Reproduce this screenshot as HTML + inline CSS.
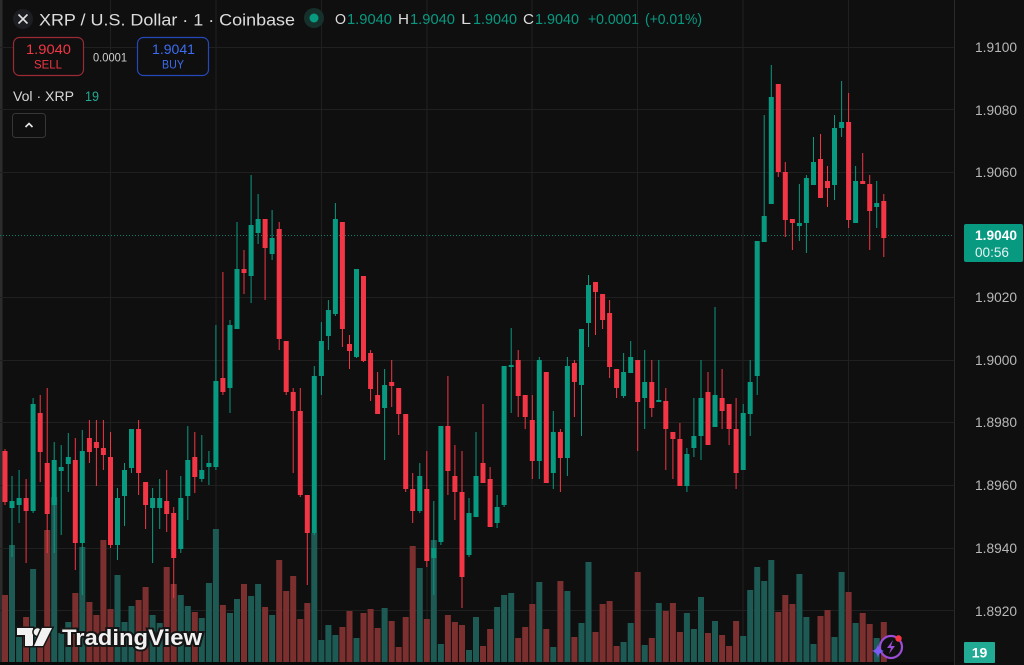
<!DOCTYPE html>
<html><head><meta charset="utf-8"><style>
html,body{margin:0;padding:0;background:#0f0f0f;width:1024px;height:665px;overflow:hidden}
svg{display:block}
text{font-family:"Liberation Sans",sans-serif}
</style></head><body>
<svg width="1024" height="665" viewBox="0 0 1024 665" xmlns="http://www.w3.org/2000/svg">
<rect width="1024" height="665" fill="#0f0f0f"/>
<rect x="0" y="0" width="2.5" height="665" fill="#2c2c2c"/>
<g stroke="#202020" stroke-width="1">
<line x1="0" y1="47.5" x2="954" y2="47.5"/><line x1="0" y1="109.5" x2="954" y2="109.5"/><line x1="0" y1="172.5" x2="954" y2="172.5"/><line x1="0" y1="297.5" x2="954" y2="297.5"/><line x1="0" y1="360.5" x2="954" y2="360.5"/><line x1="0" y1="422.5" x2="954" y2="422.5"/><line x1="0" y1="485.5" x2="954" y2="485.5"/><line x1="0" y1="548.5" x2="954" y2="548.5"/><line x1="0" y1="610.5" x2="954" y2="610.5"/>
<line x1="110.5" y1="0" x2="110.5" y2="662"/><line x1="216" y1="0" x2="216" y2="662"/><line x1="321.5" y1="0" x2="321.5" y2="662"/><line x1="427" y1="0" x2="427" y2="662"/><line x1="532" y1="0" x2="532" y2="662"/><line x1="637.5" y1="0" x2="637.5" y2="662"/><line x1="743" y1="0" x2="743" y2="662"/><line x1="848.5" y1="0" x2="848.5" y2="662"/>
</g>
<line x1="954.5" y1="0" x2="954.5" y2="665" stroke="#2a2a2a"/>
<g fill="#1e5a54">
<rect x="9" y="545" width="6" height="117"/><rect x="16.1" y="637" width="6" height="25"/><rect x="30.1" y="569" width="6" height="93"/><rect x="51.2" y="497" width="6" height="165"/><rect x="58.2" y="633" width="6" height="29"/><rect x="65.3" y="622" width="6" height="40"/><rect x="79.3" y="547" width="6" height="115"/><rect x="114.5" y="575" width="6" height="87"/><rect x="121.5" y="622" width="6" height="40"/><rect x="128.5" y="606" width="6" height="56"/><rect x="149.6" y="615" width="6" height="47"/><rect x="156.7" y="623" width="6" height="39"/><rect x="177.8" y="595" width="6" height="67"/><rect x="184.8" y="606" width="6" height="56"/><rect x="198.8" y="618" width="6" height="44"/><rect x="205.9" y="583" width="6" height="79"/><rect x="212.9" y="529" width="6" height="133"/><rect x="227" y="613" width="6" height="49"/><rect x="234" y="599" width="6" height="63"/><rect x="248.1" y="596" width="6" height="66"/><rect x="255.1" y="584" width="6" height="78"/><rect x="269.1" y="615" width="6" height="47"/><rect x="311.3" y="533" width="6" height="129"/><rect x="318.4" y="640" width="6" height="22"/><rect x="325.4" y="625" width="6" height="37"/><rect x="332.4" y="635" width="6" height="27"/><rect x="353.5" y="638" width="6" height="24"/><rect x="381.6" y="608" width="6" height="54"/><rect x="416.8" y="568" width="6" height="94"/><rect x="430.8" y="540" width="6" height="122"/><rect x="437.9" y="644" width="6" height="18"/><rect x="466" y="650" width="6" height="12"/><rect x="473" y="617" width="6" height="45"/><rect x="494.1" y="607" width="6" height="55"/><rect x="501.1" y="595" width="6" height="67"/><rect x="508.2" y="593" width="6" height="69"/><rect x="536.3" y="582" width="6" height="80"/><rect x="550.3" y="647" width="6" height="15"/><rect x="564.4" y="591" width="6" height="71"/><rect x="578.5" y="623" width="6" height="39"/><rect x="585.5" y="562" width="6" height="100"/><rect x="620.6" y="642" width="6" height="20"/><rect x="627.7" y="623" width="6" height="39"/><rect x="641.7" y="645" width="6" height="17"/><rect x="655.8" y="603" width="6" height="59"/><rect x="683.9" y="613" width="6" height="49"/><rect x="690.9" y="629" width="6" height="33"/><rect x="698" y="597" width="6" height="65"/><rect x="712" y="621" width="6" height="41"/><rect x="740.2" y="636" width="6" height="26"/><rect x="747.2" y="590" width="6" height="72"/><rect x="754.2" y="567" width="6" height="95"/><rect x="761.2" y="581" width="6" height="81"/><rect x="768.3" y="560" width="6" height="102"/><rect x="796.4" y="574" width="6" height="88"/><rect x="803.4" y="617" width="6" height="45"/><rect x="810.5" y="644" width="6" height="18"/><rect x="831.5" y="637" width="6" height="25"/><rect x="838.6" y="572" width="6" height="90"/><rect x="852.6" y="623" width="6" height="39"/><rect x="873.7" y="638" width="6" height="24"/>
</g>
<g fill="#7b302f">
<rect x="2" y="595" width="6" height="67"/><rect x="23.1" y="617" width="6" height="45"/><rect x="37.2" y="647" width="6" height="15"/><rect x="44.2" y="530" width="6" height="132"/><rect x="72.3" y="593" width="6" height="69"/><rect x="86.4" y="602" width="6" height="60"/><rect x="93.4" y="615" width="6" height="47"/><rect x="100.4" y="540" width="6" height="122"/><rect x="107.5" y="609" width="6" height="53"/><rect x="135.6" y="600" width="6" height="62"/><rect x="142.6" y="587" width="6" height="75"/><rect x="163.7" y="567" width="6" height="95"/><rect x="170.7" y="584" width="6" height="78"/><rect x="191.8" y="612" width="6" height="50"/><rect x="219.9" y="605" width="6" height="57"/><rect x="241" y="584" width="6" height="78"/><rect x="262.1" y="607" width="6" height="55"/><rect x="276.2" y="560" width="6" height="102"/><rect x="283.2" y="591" width="6" height="71"/><rect x="290.2" y="576" width="6" height="86"/><rect x="297.3" y="619" width="6" height="43"/><rect x="304.3" y="603" width="6" height="59"/><rect x="339.4" y="627" width="6" height="35"/><rect x="346.5" y="611" width="6" height="51"/><rect x="360.5" y="613" width="6" height="49"/><rect x="367.6" y="609" width="6" height="53"/><rect x="374.6" y="628" width="6" height="34"/><rect x="388.7" y="621" width="6" height="41"/><rect x="395.7" y="647" width="6" height="15"/><rect x="402.7" y="617" width="6" height="45"/><rect x="409.7" y="546" width="6" height="116"/><rect x="423.8" y="619" width="6" height="43"/><rect x="444.9" y="615" width="6" height="47"/><rect x="451.9" y="622" width="6" height="40"/><rect x="459" y="625" width="6" height="37"/><rect x="480" y="646" width="6" height="16"/><rect x="487.1" y="629" width="6" height="33"/><rect x="515.2" y="638" width="6" height="24"/><rect x="522.2" y="627" width="6" height="35"/><rect x="529.3" y="604" width="6" height="58"/><rect x="543.3" y="629" width="6" height="33"/><rect x="557.4" y="581" width="6" height="81"/><rect x="571.4" y="637" width="6" height="25"/><rect x="592.5" y="632" width="6" height="30"/><rect x="599.6" y="604" width="6" height="58"/><rect x="606.6" y="601" width="6" height="61"/><rect x="613.6" y="646" width="6" height="16"/><rect x="634.7" y="572" width="6" height="90"/><rect x="648.8" y="638" width="6" height="24"/><rect x="662.8" y="611" width="6" height="51"/><rect x="669.9" y="603" width="6" height="59"/><rect x="676.9" y="632" width="6" height="30"/><rect x="705" y="633" width="6" height="29"/><rect x="719.1" y="635" width="6" height="27"/><rect x="726.1" y="646" width="6" height="16"/><rect x="733.1" y="621" width="6" height="41"/><rect x="775.3" y="612" width="6" height="50"/><rect x="782.3" y="595" width="6" height="67"/><rect x="789.4" y="604" width="6" height="58"/><rect x="817.5" y="616" width="6" height="46"/><rect x="824.5" y="610" width="6" height="52"/><rect x="845.6" y="592" width="6" height="70"/><rect x="859.7" y="613" width="6" height="49"/><rect x="866.7" y="624" width="6" height="38"/><rect x="880.8" y="622" width="6" height="40"/>
</g>
<rect x="0" y="662" width="954" height="3" fill="#090909"/>
<line x1="0" y1="235.5" x2="954" y2="235.5" stroke="#0a7d6b" stroke-width="1" stroke-dasharray="1 2"/>
<g fill="#089981">
<rect x="11.5" y="476" width="1" height="81"/><rect x="9.5" y="501" width="5" height="7"/>
<rect x="18.6" y="470" width="1" height="53"/><rect x="16.6" y="498" width="5" height="7"/>
<rect x="32.6" y="398" width="1" height="115"/><rect x="30.6" y="404" width="5" height="107"/>
<rect x="53.7" y="442" width="1" height="111"/><rect x="51.7" y="460" width="5" height="45"/>
<rect x="60.7" y="445" width="1" height="90"/><rect x="58.7" y="467" width="5" height="4"/>
<rect x="67.8" y="433" width="1" height="59"/><rect x="65.8" y="457" width="5" height="7"/>
<rect x="81.8" y="430" width="1" height="165"/><rect x="79.8" y="451" width="5" height="92"/>
<rect x="117" y="488" width="1" height="72"/><rect x="115" y="498" width="5" height="47"/>
<rect x="124" y="463" width="1" height="63"/><rect x="122" y="470" width="5" height="26"/>
<rect x="131" y="429" width="1" height="44"/><rect x="129" y="429" width="5" height="39"/>
<rect x="152.1" y="488" width="1" height="75"/><rect x="150.1" y="498" width="5" height="10"/>
<rect x="159.2" y="479" width="1" height="50"/><rect x="157.2" y="498" width="5" height="10"/>
<rect x="180.3" y="476" width="1" height="77"/><rect x="178.3" y="498" width="5" height="51"/>
<rect x="187.3" y="426" width="1" height="94"/><rect x="185.3" y="460" width="5" height="36"/>
<rect x="201.3" y="435" width="1" height="47"/><rect x="199.3" y="470" width="5" height="9"/>
<rect x="208.4" y="451" width="1" height="34"/><rect x="206.4" y="463" width="5" height="4"/>
<rect x="215.4" y="325" width="1" height="145"/><rect x="213.4" y="381" width="5" height="86"/>
<rect x="229.5" y="320" width="1" height="93"/><rect x="227.5" y="325" width="5" height="63"/>
<rect x="236.5" y="222" width="1" height="107"/><rect x="234.5" y="269" width="5" height="60"/>
<rect x="250.6" y="175" width="1" height="128"/><rect x="248.6" y="225" width="5" height="51"/>
<rect x="257.6" y="194" width="1" height="50"/><rect x="255.6" y="219" width="5" height="14"/>
<rect x="271.6" y="210" width="1" height="50"/><rect x="269.6" y="238" width="5" height="16"/>
<rect x="313.8" y="366" width="1" height="169"/><rect x="311.8" y="376" width="5" height="157"/>
<rect x="320.9" y="322" width="1" height="73"/><rect x="318.9" y="341" width="5" height="35"/>
<rect x="327.9" y="300" width="1" height="50"/><rect x="325.9" y="310" width="5" height="26"/>
<rect x="334.9" y="203" width="1" height="113"/><rect x="332.9" y="219" width="5" height="95"/>
<rect x="356" y="269" width="1" height="89"/><rect x="354" y="269" width="5" height="88"/>
<rect x="384.1" y="369" width="1" height="91"/><rect x="382.1" y="385" width="5" height="23"/>
<rect x="419.3" y="463" width="1" height="50"/><rect x="417.3" y="476" width="5" height="35"/>
<rect x="433.3" y="501" width="1" height="94"/><rect x="431.3" y="548" width="5" height="10"/>
<rect x="440.4" y="426" width="1" height="119"/><rect x="438.4" y="426" width="5" height="116"/>
<rect x="468.5" y="498" width="1" height="59"/><rect x="466.5" y="513" width="5" height="42"/>
<rect x="475.5" y="432" width="1" height="85"/><rect x="473.5" y="476" width="5" height="41"/>
<rect x="496.6" y="495" width="1" height="33"/><rect x="494.6" y="507" width="5" height="16"/>
<rect x="503.6" y="366" width="1" height="141"/><rect x="501.6" y="366" width="5" height="139"/>
<rect x="510.7" y="328" width="1" height="85"/><rect x="508.7" y="365" width="5" height="2"/>
<rect x="538.8" y="357" width="1" height="122"/><rect x="536.8" y="360" width="5" height="101"/>
<rect x="552.8" y="411" width="1" height="78"/><rect x="550.8" y="432" width="5" height="41"/>
<rect x="566.9" y="357" width="1" height="119"/><rect x="564.9" y="366" width="5" height="92"/>
<rect x="581" y="329" width="1" height="107"/><rect x="579" y="329" width="5" height="56"/>
<rect x="588" y="275" width="1" height="72"/><rect x="586" y="285" width="5" height="38"/>
<rect x="623.1" y="353" width="1" height="45"/><rect x="621.1" y="372" width="5" height="24"/>
<rect x="630.2" y="341" width="1" height="32"/><rect x="628.2" y="357" width="5" height="16"/>
<rect x="644.2" y="350" width="1" height="79"/><rect x="642.2" y="382" width="5" height="16"/>
<rect x="658.3" y="360" width="1" height="42"/><rect x="656.3" y="400" width="5" height="2"/>
<rect x="686.4" y="448" width="1" height="44"/><rect x="684.4" y="454" width="5" height="32"/>
<rect x="693.4" y="398" width="1" height="59"/><rect x="691.4" y="436" width="5" height="12"/>
<rect x="700.5" y="360" width="1" height="100"/><rect x="698.5" y="398" width="5" height="38"/>
<rect x="714.5" y="307" width="1" height="120"/><rect x="712.5" y="395" width="5" height="32"/>
<rect x="742.7" y="404" width="1" height="66"/><rect x="740.7" y="413" width="5" height="57"/>
<rect x="749.7" y="360" width="1" height="76"/><rect x="747.7" y="382" width="5" height="32"/>
<rect x="756.7" y="241" width="1" height="154"/><rect x="754.7" y="241" width="5" height="135"/>
<rect x="763.7" y="115" width="1" height="127"/><rect x="761.7" y="216" width="5" height="26"/>
<rect x="770.8" y="65" width="1" height="139"/><rect x="768.8" y="97" width="5" height="107"/>
<rect x="798.9" y="184" width="1" height="57"/><rect x="796.9" y="223" width="5" height="3"/>
<rect x="805.9" y="175" width="1" height="78"/><rect x="803.9" y="178" width="5" height="45"/>
<rect x="813" y="137" width="1" height="48"/><rect x="811" y="162" width="5" height="23"/>
<rect x="834" y="115" width="1" height="85"/><rect x="832" y="128" width="5" height="57"/>
<rect x="841.1" y="81" width="1" height="56"/><rect x="839.1" y="122" width="5" height="6"/>
<rect x="855.1" y="166" width="1" height="57"/><rect x="853.1" y="181" width="5" height="42"/>
<rect x="876.2" y="181" width="1" height="47"/><rect x="874.2" y="203" width="5" height="4"/>
</g>
<g fill="#f23645">
<rect x="4.5" y="449" width="1" height="56"/><rect x="2.5" y="451" width="5" height="51"/>
<rect x="25.6" y="479" width="1" height="84"/><rect x="23.6" y="498" width="5" height="13"/>
<rect x="39.7" y="395" width="1" height="87"/><rect x="37.7" y="413" width="5" height="39"/>
<rect x="46.7" y="388" width="1" height="165"/><rect x="44.7" y="463" width="5" height="51"/>
<rect x="74.8" y="438" width="1" height="132"/><rect x="72.8" y="460" width="5" height="83"/>
<rect x="88.9" y="420" width="1" height="43"/><rect x="86.9" y="438" width="5" height="14"/>
<rect x="95.9" y="420" width="1" height="66"/><rect x="93.9" y="442" width="5" height="6"/>
<rect x="102.9" y="420" width="1" height="50"/><rect x="100.9" y="448" width="5" height="7"/>
<rect x="110" y="432" width="1" height="116"/><rect x="108" y="457" width="5" height="88"/>
<rect x="138.1" y="420" width="1" height="75"/><rect x="136.1" y="429" width="5" height="44"/>
<rect x="145.1" y="482" width="1" height="47"/><rect x="143.1" y="482" width="5" height="23"/>
<rect x="166.2" y="470" width="1" height="62"/><rect x="164.2" y="501" width="5" height="13"/>
<rect x="173.2" y="507" width="1" height="91"/><rect x="171.2" y="513" width="5" height="45"/>
<rect x="194.3" y="432" width="1" height="61"/><rect x="192.3" y="457" width="5" height="20"/>
<rect x="222.4" y="272" width="1" height="123"/><rect x="220.4" y="378" width="5" height="14"/>
<rect x="243.5" y="250" width="1" height="44"/><rect x="241.5" y="269" width="5" height="4"/>
<rect x="264.6" y="219" width="1" height="81"/><rect x="262.6" y="219" width="5" height="29"/>
<rect x="278.7" y="222" width="1" height="128"/><rect x="276.7" y="229" width="5" height="110"/>
<rect x="285.7" y="341" width="1" height="54"/><rect x="283.7" y="341" width="5" height="51"/>
<rect x="292.7" y="388" width="1" height="85"/><rect x="290.7" y="392" width="5" height="19"/>
<rect x="299.8" y="388" width="1" height="109"/><rect x="297.8" y="411" width="5" height="84"/>
<rect x="306.8" y="495" width="1" height="90"/><rect x="304.8" y="495" width="5" height="38"/>
<rect x="341.9" y="222" width="1" height="125"/><rect x="339.9" y="222" width="5" height="107"/>
<rect x="349" y="335" width="1" height="34"/><rect x="347" y="344" width="5" height="7"/>
<rect x="363" y="276" width="1" height="86"/><rect x="361" y="276" width="5" height="85"/>
<rect x="370.1" y="350" width="1" height="51"/><rect x="368.1" y="353" width="5" height="36"/>
<rect x="377.1" y="372" width="1" height="42"/><rect x="375.1" y="395" width="5" height="19"/>
<rect x="391.2" y="360" width="1" height="47"/><rect x="389.2" y="382" width="5" height="4"/>
<rect x="398.2" y="388" width="1" height="47"/><rect x="396.2" y="388" width="5" height="26"/>
<rect x="405.2" y="414" width="1" height="78"/><rect x="403.2" y="414" width="5" height="75"/>
<rect x="412.2" y="473" width="1" height="50"/><rect x="410.2" y="489" width="5" height="22"/>
<rect x="426.3" y="451" width="1" height="116"/><rect x="424.3" y="489" width="5" height="72"/>
<rect x="447.4" y="376" width="1" height="119"/><rect x="445.4" y="426" width="5" height="45"/>
<rect x="454.4" y="445" width="1" height="75"/><rect x="452.4" y="476" width="5" height="16"/>
<rect x="461.5" y="451" width="1" height="157"/><rect x="459.5" y="492" width="5" height="85"/>
<rect x="482.5" y="404" width="1" height="79"/><rect x="480.5" y="463" width="5" height="20"/>
<rect x="489.6" y="467" width="1" height="60"/><rect x="487.6" y="479" width="5" height="48"/>
<rect x="517.7" y="350" width="1" height="67"/><rect x="515.7" y="360" width="5" height="36"/>
<rect x="524.7" y="395" width="1" height="34"/><rect x="522.7" y="395" width="5" height="22"/>
<rect x="531.8" y="395" width="1" height="84"/><rect x="529.8" y="420" width="5" height="41"/>
<rect x="545.8" y="372" width="1" height="111"/><rect x="543.8" y="372" width="5" height="111"/>
<rect x="559.9" y="429" width="1" height="63"/><rect x="557.9" y="432" width="5" height="26"/>
<rect x="573.9" y="360" width="1" height="57"/><rect x="571.9" y="363" width="5" height="19"/>
<rect x="595" y="282" width="1" height="53"/><rect x="593" y="282" width="5" height="10"/>
<rect x="602.1" y="294" width="1" height="35"/><rect x="600.1" y="294" width="5" height="26"/>
<rect x="609.1" y="300" width="1" height="78"/><rect x="607.1" y="313" width="5" height="54"/>
<rect x="616.1" y="369" width="1" height="29"/><rect x="614.1" y="369" width="5" height="19"/>
<rect x="637.2" y="360" width="1" height="91"/><rect x="635.2" y="360" width="5" height="42"/>
<rect x="651.3" y="360" width="1" height="57"/><rect x="649.3" y="382" width="5" height="26"/>
<rect x="665.3" y="388" width="1" height="82"/><rect x="663.3" y="401" width="5" height="28"/>
<rect x="672.4" y="432" width="1" height="47"/><rect x="670.4" y="432" width="5" height="7"/>
<rect x="679.4" y="423" width="1" height="63"/><rect x="677.4" y="439" width="5" height="47"/>
<rect x="707.5" y="372" width="1" height="73"/><rect x="705.5" y="392" width="5" height="53"/>
<rect x="721.6" y="369" width="1" height="60"/><rect x="719.6" y="398" width="5" height="13"/>
<rect x="728.6" y="404" width="1" height="41"/><rect x="726.6" y="404" width="5" height="25"/>
<rect x="735.6" y="398" width="1" height="91"/><rect x="733.6" y="429" width="5" height="44"/>
<rect x="777.8" y="84" width="1" height="93"/><rect x="775.8" y="84" width="5" height="88"/>
<rect x="784.8" y="162" width="1" height="75"/><rect x="782.8" y="172" width="5" height="48"/>
<rect x="791.9" y="219" width="1" height="31"/><rect x="789.9" y="219" width="5" height="4"/>
<rect x="820" y="134" width="1" height="64"/><rect x="818" y="159" width="5" height="39"/>
<rect x="827" y="166" width="1" height="41"/><rect x="825" y="181" width="5" height="7"/>
<rect x="848.1" y="93" width="1" height="135"/><rect x="846.1" y="122" width="5" height="98"/>
<rect x="862.2" y="153" width="1" height="31"/><rect x="860.2" y="181" width="5" height="3"/>
<rect x="869.2" y="175" width="1" height="75"/><rect x="867.2" y="184" width="5" height="27"/>
<rect x="883.3" y="194" width="1" height="63"/><rect x="881.3" y="201" width="5" height="37"/>
</g>
<g fill="#b8b8b8" font-size="14">
<text x="975" y="52" textLength="42" lengthAdjust="spacingAndGlyphs">1.9100</text>
<text x="975" y="115" textLength="42" lengthAdjust="spacingAndGlyphs">1.9080</text>
<text x="975" y="177" textLength="42" lengthAdjust="spacingAndGlyphs">1.9060</text>
<text x="975" y="302" textLength="42" lengthAdjust="spacingAndGlyphs">1.9020</text>
<text x="975" y="365" textLength="42" lengthAdjust="spacingAndGlyphs">1.9000</text>
<text x="975" y="427" textLength="42" lengthAdjust="spacingAndGlyphs">1.8980</text>
<text x="975" y="490" textLength="42" lengthAdjust="spacingAndGlyphs">1.8960</text>
<text x="975" y="553" textLength="42" lengthAdjust="spacingAndGlyphs">1.8940</text>
<text x="975" y="616" textLength="42" lengthAdjust="spacingAndGlyphs">1.8920</text>
</g>
<rect x="964" y="224" width="59" height="38" rx="2" fill="#089981"/>
<text x="975" y="240" font-size="14" font-weight="bold" fill="#ffffff" textLength="42" lengthAdjust="spacingAndGlyphs">1.9040</text>
<text x="975" y="257" font-size="14" fill="#e6f4f1" textLength="34" lengthAdjust="spacingAndGlyphs">00:56</text>
<rect x="964" y="642" width="31" height="21" rx="1" fill="#22ab94"/>
<text x="979.5" y="657.5" font-size="14" font-weight="bold" fill="#ffffff" text-anchor="middle">19</text>
<circle cx="23" cy="19" r="10" fill="#1c1e22"/>
<path d="M18.5 14.5 L27.5 23.5 M27.5 14.5 L18.5 23.5" stroke="#e0e0e0" stroke-width="1.6"/>
<text x="39" y="25.5" font-size="17" fill="#dcdcdc" textLength="256" lengthAdjust="spacingAndGlyphs">XRP / U.S. Dollar · 1 · Coinbase</text>
<circle cx="314" cy="18" r="10" fill="#16302b"/>
<circle cx="314" cy="18" r="4.5" fill="#089981"/>
<g font-size="15">
<text x="335" y="24" fill="#dcdcdc" textLength="11" lengthAdjust="spacingAndGlyphs">O</text>
<text x="347" y="24" fill="#089981" textLength="45" lengthAdjust="spacingAndGlyphs">1.9040</text>
<text x="398" y="24" fill="#dcdcdc" textLength="11" lengthAdjust="spacingAndGlyphs">H</text>
<text x="410" y="24" fill="#089981" textLength="45" lengthAdjust="spacingAndGlyphs">1.9040</text>
<text x="461" y="24" fill="#dcdcdc" textLength="10" lengthAdjust="spacingAndGlyphs">L</text>
<text x="473" y="24" fill="#089981" textLength="44" lengthAdjust="spacingAndGlyphs">1.9040</text>
<text x="523" y="24" fill="#dcdcdc" textLength="11" lengthAdjust="spacingAndGlyphs">C</text>
<text x="535" y="24" fill="#089981" textLength="44" lengthAdjust="spacingAndGlyphs">1.9040</text>
<text x="588" y="24" fill="#089981" textLength="51" lengthAdjust="spacingAndGlyphs">+0.0001</text>
<text x="645" y="24" fill="#089981" textLength="57" lengthAdjust="spacingAndGlyphs">(+0.01%)</text>
</g>
<rect x="13.5" y="37.5" width="70" height="38" rx="6" fill="#0f0f0f" stroke="#9b2a34" stroke-width="1.2"/>
<text x="26" y="54" font-size="14" fill="#f23645" textLength="45" lengthAdjust="spacingAndGlyphs">1.9040</text>
<text x="34" y="68.5" font-size="12" fill="#f23645" textLength="28" lengthAdjust="spacingAndGlyphs">SELL</text>
<text x="93" y="61.5" font-size="12" fill="#cfcfcf" textLength="34" lengthAdjust="spacingAndGlyphs">0.0001</text>
<rect x="137.5" y="37.5" width="71" height="38" rx="6" fill="#0f0f0f" stroke="#2549b8" stroke-width="1.2"/>
<text x="152" y="54" font-size="14" fill="#3d6cf0" textLength="43" lengthAdjust="spacingAndGlyphs">1.9041</text>
<text x="162" y="68.5" font-size="12" fill="#3d6cf0" textLength="22" lengthAdjust="spacingAndGlyphs">BUY</text>
<text x="13" y="101" font-size="14" fill="#d8d8d8" textLength="61" lengthAdjust="spacingAndGlyphs">Vol · XRP</text>
<text x="85" y="101" font-size="14" fill="#22ab94" textLength="14" lengthAdjust="spacingAndGlyphs">19</text>
<rect x="12.5" y="113.5" width="33" height="24" rx="3" fill="#0f0f0f" stroke="#363636"/>
<path d="M25.5 127 L29 123.5 L32.5 127" fill="none" stroke="#e8e8e8" stroke-width="1.6"/>
<g fill="#f2f2f2" stroke="#161616" stroke-width="3" paint-order="stroke">
<path d="M17 628 H33 V646 H25 V635 H17 Z"/>
<circle cx="37.5" cy="632" r="3.8"/>
<path d="M42 628 H52 L43 646 H34 Z"/>
<text x="62" y="645" font-size="22" font-weight="bold" textLength="140" lengthAdjust="spacingAndGlyphs" stroke-width="4">TradingView</text>
</g>
<circle cx="891" cy="647" r="11" fill="#0f0f0f" stroke="#9b4dd6" stroke-width="2.2"/>
<path d="M893 640 L887 648 H891 L889 654 L895 646 H891 Z" fill="#9b4dd6"/>
<path d="M878 644 Q879 650 884 651 Q879 652 878 658 Q877 652 872 651 Q877 650 878 644 Z" fill="#7b5cf5"/>
<circle cx="898.5" cy="638.5" r="3.2" fill="#f23645"/>
</svg>
</body></html>
